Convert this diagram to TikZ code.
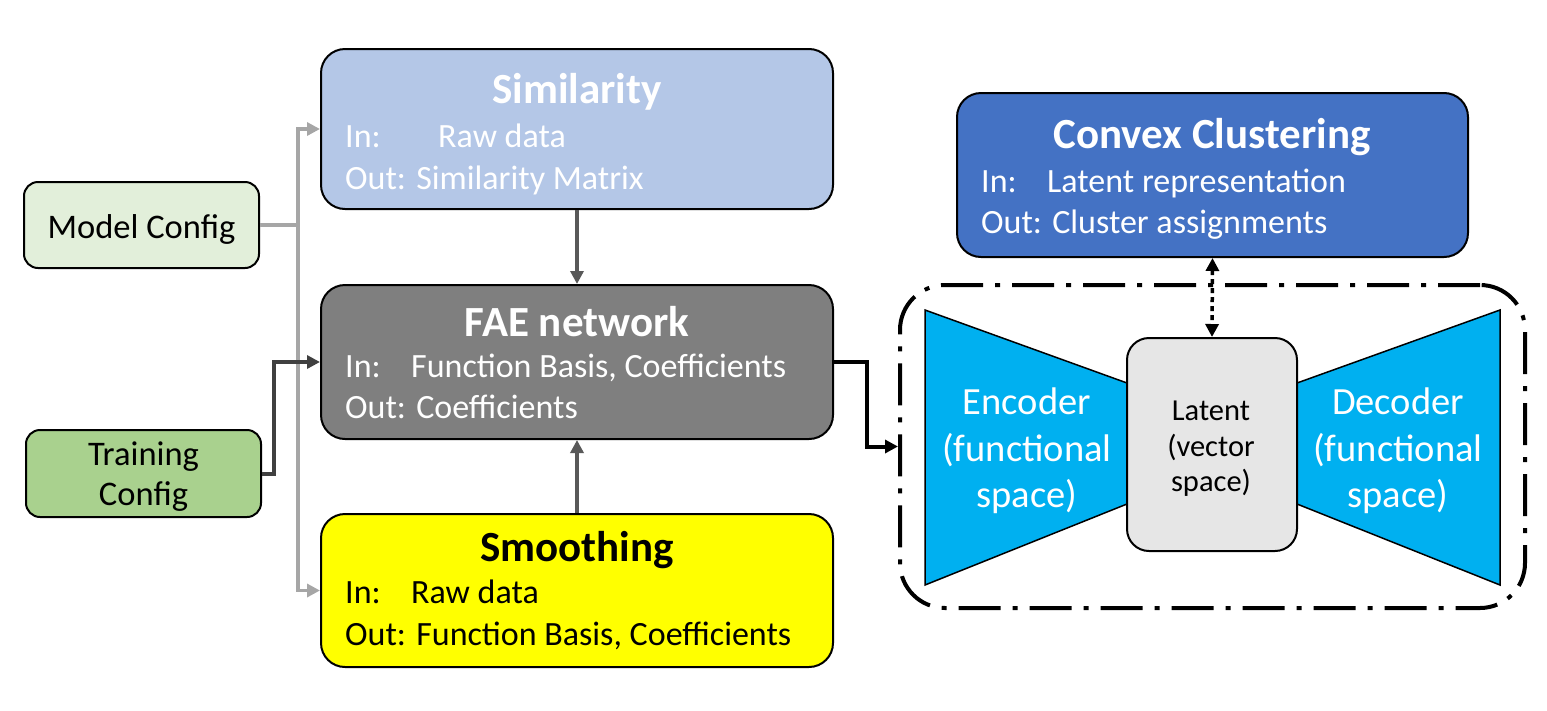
\documentclass[tikz,border=0pt]{standalone}
\usepackage{fontspec}
\setmainfont{Carlito}
\usetikzlibrary{arrows.meta,positioning}
\definecolor{simblue}{HTML}{B4C7E7}
\definecolor{faegray}{HTML}{7F7F7F}
\definecolor{smoothyellow}{HTML}{FFFF00}
\definecolor{convexblue}{HTML}{4472C4}
\definecolor{modelgreen}{HTML}{E2EFDA}
\definecolor{traingreen}{HTML}{A9D18E}
\definecolor{codecblue}{HTML}{00B0F0}
\definecolor{latentgray}{HTML}{E6E6E6}
\tikzset{>={Triangle[length=13pt,width=13pt]}}
\tikzset{
  box/.style={draw=black, line width=2pt, rounded corners=24pt, inner sep=0pt, minimum width=512pt},
  cfgbox/.style={draw=black, line width=2pt, rounded corners=14pt, minimum width=235pt},
  cfgtext/.style={align=center, font=\fontsize{34.5}{40}\selectfont},
  title/.style={font=\fontsize{43}{50}\selectfont\bfseries, inner sep=0pt},
  body/.style={font=\fontsize{34}{40}\selectfont, inner sep=0pt, anchor=west, text height=23.5pt, text depth=7.5pt},
  codec/.style={draw=black, line width=1.5pt, fill=codecblue},
  codectext/.style={text=white, align=center, font=\fontsize{38.5}{46.5}\selectfont},
  bus/.style={draw=black!35, line width=3.5pt, ->},
  flow/.style={draw=black!65, line width=4pt, ->},
}

\begin{document}
\begin{tikzpicture}[x=1pt, y=-1pt]
\useasboundingbox (0,0) rectangle (1547,710);

\node (mc) [cfgbox, fill=modelgreen, minimum height=86pt] at (141.5,225) {};
\node (tc) [cfgbox, fill=traingreen, minimum height=87pt] at (143.5,473.5) {};
\node (mctext) [cfgtext] at (141.5,229) {Model Config};
\node (tctext) [cfgtext] at (143.5,477) {Training\\Config};

\node (sim)    [box, fill=simblue, minimum height=160pt] at (577,129) {};
\node (fae)    [box, fill=faegray, minimum height=154pt, below=74pt of sim] {};
\node (smooth) [box, fill=smoothyellow, minimum height=153pt, below=73pt of fae] {};
\node (cc)     [box, fill=convexblue, minimum width=511pt, minimum height=164pt] at (1212.5,175) {};

\node (simtitle) [title, text=white] at (577,92) {Similarity};
\node (simin)  [body, text=white] at (345,139) {In:};
\node          [body, text=white] at (438,139) {Raw data};
\node (simout) [body, text=white] at (345,181) {Out: Similarity Matrix};

\node (faetitle) [title, text=white] at (577,322) {FAE network};
\node (faein)  [body, text=white] at (345,369) {In:};
\node          [body, text=white] at (411,369) {Function Basis, Coefficients};
\node (faeout) [body, text=white] at (345,410) {Out: Coefficients};

\node (smtitle) [title] at (577,550) {Smoothing};
\node (smin)   [body] at (345,595) {In:};
\node          [body] at (411,595) {Raw data};
\node (smout)  [body] at (345,637) {Out: Function Basis, Coefficients};

\node (cctitle) [title, text=white] at (1212,137) {Convex Clustering};
\node (ccin)   [body, text=white] at (981,184) {In:};
\node          [body, text=white] at (1047,184) {Latent representation};
\node (ccout)  [body, text=white] at (981,225) {Out: Cluster assignments};

\node (ae) [draw=black, line width=4pt, rounded corners=45pt, dash pattern=on 42pt off 12pt on 5pt off 12pt,
            minimum width=625pt, minimum height=323pt] at (1212.5,446.5) {};
\draw [codec] (925,310) -- (1127,383) -- (1127,504) -- (925,585) -- cycle;
\draw [codec] (1500,310) -- (1297,383) -- (1297,504) -- (1500,585) -- cycle;
\node (enc) [codectext] at (1027,451) {Encoder\\(functional\\space)};
\node (dec) [codectext] at (1398,451) {Decoder\\(functional\\space)};
\node (lat) [draw=black, line width=2pt, rounded corners=22pt, fill=latentgray, minimum width=170pt,
             minimum height=213pt] at (1212,444.5) {};
\node (lattext) [align=center, font=\fontsize{30.5}{35.5}\selectfont] at (1211,449) {Latent\\(vector\\space)};

\draw [bus] (mc.east) -- ++(38,0) |- (sim.west);
\draw [bus] (mc.east) -- ++(38,0) |- (smooth.west);
\draw [flow, draw=black!75] (tc.east) -- ++(12,0) |- (fae.west);
\draw [flow] (sim) -- (fae);
\draw [flow] (smooth) -- (fae);
\draw [flow, draw=black] (fae.east) -- ++(33,0) |- (ae.west);
\draw [<->, line width=3.5pt, dash pattern=on 5pt off 4pt] (cc.south) -- (lat.north);

\end{tikzpicture}
\end{document}
